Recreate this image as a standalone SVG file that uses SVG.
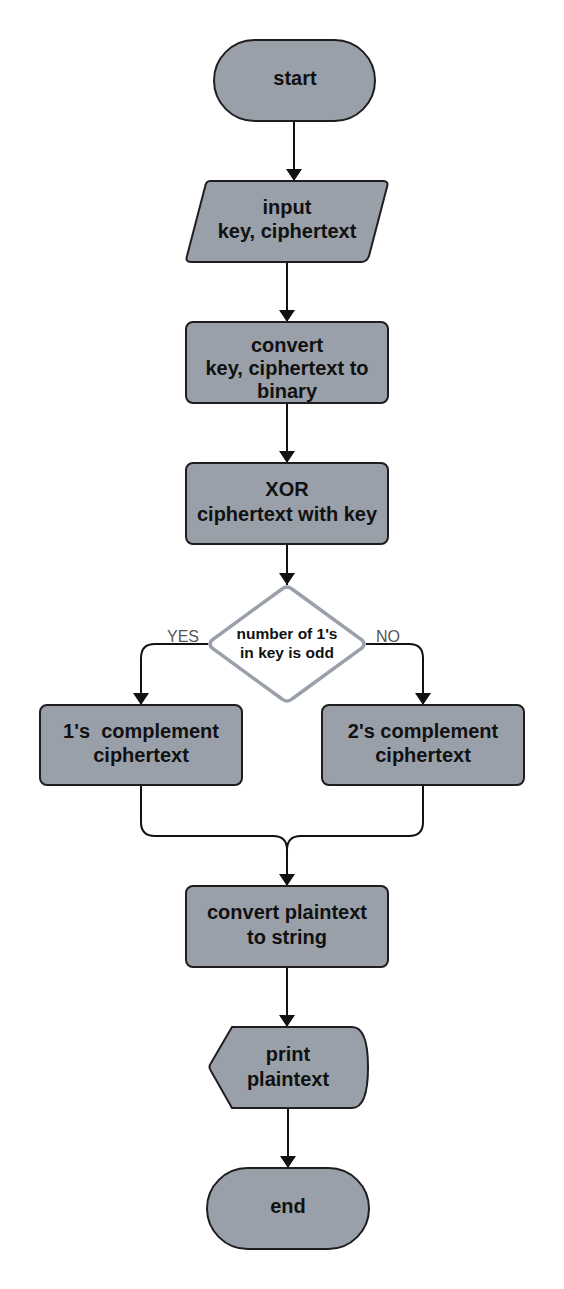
<svg xmlns="http://www.w3.org/2000/svg" width="564" height="1289" viewBox="0 0 564 1289">
<style>
.n{fill:#9aa0aa;stroke:#1e1e1e;stroke-width:2}
.t{font-family:"Liberation Sans",Arial,sans-serif;font-weight:bold;font-size:20px;fill:#111;text-anchor:middle}
.s{font-family:"Liberation Sans",Arial,sans-serif;font-weight:bold;font-size:15.5px;fill:#111;text-anchor:middle}
.l{font-family:"Liberation Sans",Arial,sans-serif;font-size:16px;fill:#555;text-anchor:middle}
.c{fill:none;stroke:#111;stroke-width:2}
</style>
<defs>
<marker id="a" viewBox="0 0 12 16" refX="12" refY="8" markerWidth="12" markerHeight="16" markerUnits="userSpaceOnUse" orient="auto">
<path d="M0,0 L12,8 L0,16 Z" fill="#111"/>
</marker>
</defs>
<rect width="564" height="1289" fill="#fff"/>
<g id="connectors">
<path class="c" d="M294,121 V181" marker-end="url(#a)"/>
<path class="c" d="M287,262 V322" marker-end="url(#a)"/>
<path class="c" d="M287,403 V463" marker-end="url(#a)"/>
<path class="c" d="M287,544 V585" marker-end="url(#a)"/>
<path class="c" d="M208,644 H155 Q141,644 141,658 V705" marker-end="url(#a)"/>
<path class="c" d="M366,644 H409 Q423,644 423,658 V705" marker-end="url(#a)"/>
<path class="c" d="M141,785 V822 Q141,836 155,836 H273 Q287,836 287,850"/>
<path class="c" d="M423,785 V822 Q423,836 409,836 H301 Q287,836 287,850"/>
<path class="c" d="M287,850 V886" marker-end="url(#a)"/>
<path class="c" d="M287,967 V1027" marker-end="url(#a)"/>
<path class="c" d="M288,1108 V1168" marker-end="url(#a)"/>
<text class="l" x="183" y="642">YES</text>
<text class="l" x="388" y="642">NO</text>
</g>
<g id="start">
<rect class="n" x="214" y="40" width="161" height="81" rx="40.5"/>
<text class="t" x="295" y="85">start</text>
</g>
<g id="input">
<path class="n" d="M210,181 H383 Q389,181 387,187 L369,256 Q367,262 361,262 H191 Q185,262 187,256 L205,187 Q206,181 210,181 Z"/>
<text class="t" x="287" y="214">input</text>
<text class="t" x="287" y="238">key, ciphertext</text>
</g>
<g id="convert">
<rect class="n" x="186" y="322" width="202" height="81" rx="7"/>
<text class="t" x="287" y="352">convert</text>
<text class="t" x="287" y="375">key, ciphertext to</text>
<text class="t" x="287" y="398">binary</text>
</g>
<g id="xor">
<rect class="n" x="186" y="463" width="202" height="81" rx="7"/>
<text class="t" x="287" y="496">XOR</text>
<text class="t" x="287" y="521">ciphertext with key</text>
</g>
<g id="decision">
<path d="M282,589 Q287,585 292,589 L362,640 Q366,644 362,648 L292,699 Q287,703 282,699 L212,648 Q208,644 212,640 Z" fill="#fff" stroke="#9aa0aa" stroke-width="3.5"/>
<text class="s" x="287" y="638.5">number of 1's</text>
<text class="s" x="287" y="657.5">in key is odd</text>
</g>
<g id="ones">
<rect class="n" x="40" y="705" width="202" height="80" rx="7"/>
<text class="t" x="141" y="738" xml:space="preserve">1's  complement</text>
<text class="t" x="141" y="762">ciphertext</text>
</g>
<g id="twos">
<rect class="n" x="322" y="705" width="202" height="80" rx="7"/>
<text class="t" x="423" y="738">2's complement</text>
<text class="t" x="423" y="762">ciphertext</text>
</g>
<g id="tostring">
<rect class="n" x="186" y="886" width="202" height="81" rx="7"/>
<text class="t" x="287" y="919">convert plaintext</text>
<text class="t" x="287" y="944">to string</text>
</g>
<g id="print">
<path class="n" d="M232,1027 H352 Q368,1027 368,1067 Q368,1108 352,1108 H232 L211,1071 Q208,1067 211,1063 Z"/>
<text class="t" x="288" y="1061">print</text>
<text class="t" x="288" y="1086">plaintext</text>
</g>
<g id="end">
<rect class="n" x="207" y="1168" width="162" height="81" rx="40.5"/>
<text class="t" x="288" y="1213">end</text>
</g>
</svg>
